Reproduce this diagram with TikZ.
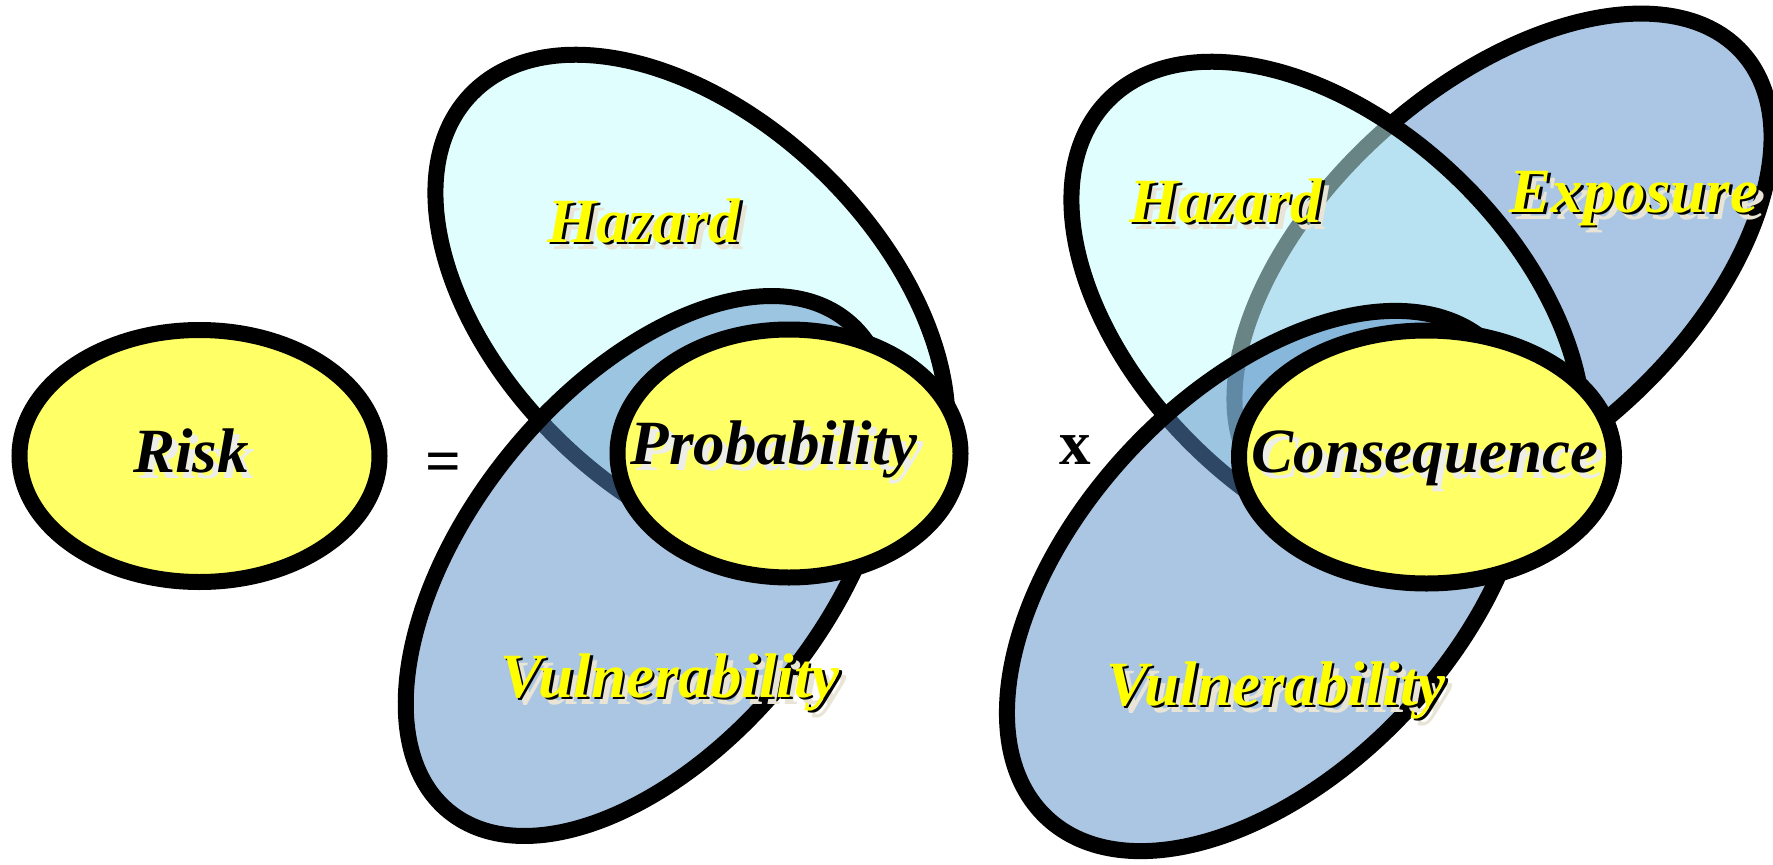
\documentclass[tikz,border=0pt]{standalone}
\usepackage{fontspec}
\setmainfont{Liberation Serif}
\usetikzlibrary{shapes.geometric}
\definecolor{yel}{RGB}{255,255,102}
\definecolor{hazc}{RGB}{198,253,253}
\definecolor{vulc}{RGB}{89,142,198}
\definecolor{expc}{RGB}{170,198,228}
\definecolor{shbeige}{RGB}{232,228,214}
\definecolor{shlight}{RGB}{238,238,232}
\definecolor{lblyel}{RGB}{255,255,0}
\tikzset{
  oval/.style={ellipse, draw=black, line width=16pt, inner sep=0pt},
  yellowell/.style={oval, fill=yel},
  hazard/.style={oval, fill=hazc, fill opacity=0.525, minimum width=612pt, minimum height=376pt, rotate=-44},
  vuln/.style={oval, fill=vulc, fill opacity=0.505},
  expo/.style={oval, fill=expc},
  word/.style={font=\fontsize{63}{70}\selectfont\bfseries\itshape, inner sep=0pt, anchor=base},
  op/.style={font=\fontsize{63}{70}\selectfont\bfseries, inner sep=0pt, anchor=base},
}
\newcommand\ylab[4]{%
  \node[word, text=shbeige, xshift=7pt, yshift=-7pt] (#1-s) at (#2,#3) {#4};
  \node[word, text=black, xshift=2.5pt, yshift=-2.5pt] (#1-d) at (#2,#3) {#4};
  \node[word, text=lblyel] (#1) at (#2,#3) {#4};}
\newcommand\blab[4]{%
  \node[word, text=shlight, xshift=6pt, yshift=-6pt] (#1-s) at (#2,#3) {#4};
  \node[word, text=black] (#1) at (#2,#3) {#4};}
\begin{document}
\begin{tikzpicture}[x=1pt, y=-1pt]
\useasboundingbox (0,0) rectangle (1773,865);
% left part
\node[yellowell, minimum width=360pt, minimum height=252pt] (risk) at (199.5,456) {};
\node[hazard] (hazL) at (691.4,306.7) {};
\node[vuln, minimum width=632pt, minimum height=356pt, rotate=51] (vulL) at (648,566) {};
\node[yellowell, minimum width=343pt, minimum height=248pt] (prob) at (789,453.5) {};
% right part
\node[expo, minimum width=644pt, minimum height=364pt, rotate=42] (expo) at (1503,268) {};
\node[hazard] (hazR) at (1327.4,313.7) {};
\node[vuln, minimum width=648pt, minimum height=380pt, rotate=47] (vulR) at (1268,581) {};
\node[yellowell, minimum width=375pt, minimum height=253pt] (cons) at (1426.5,457) {};
% labels
\ylab{hazLT}{644}{242}{Hazard}
\ylab{vulLT}{670}{697}{Vulnerability}
\ylab{hazRT}{1226}{222}{Hazard}
\ylab{vulRT}{1276}{705}{Vulnerability}
\ylab{expoT}{1634}{212}{Exposure}
\blab{riskT}{191}{472}{Risk}
\blab{probT}{774}{464}{Probability}
\blab{consT}{1425}{472}{Consequence}
\node[op] (eq) at (443,482) {=};
\node[op] (times) at (1075,464) {x};
\end{tikzpicture}
\end{document}
